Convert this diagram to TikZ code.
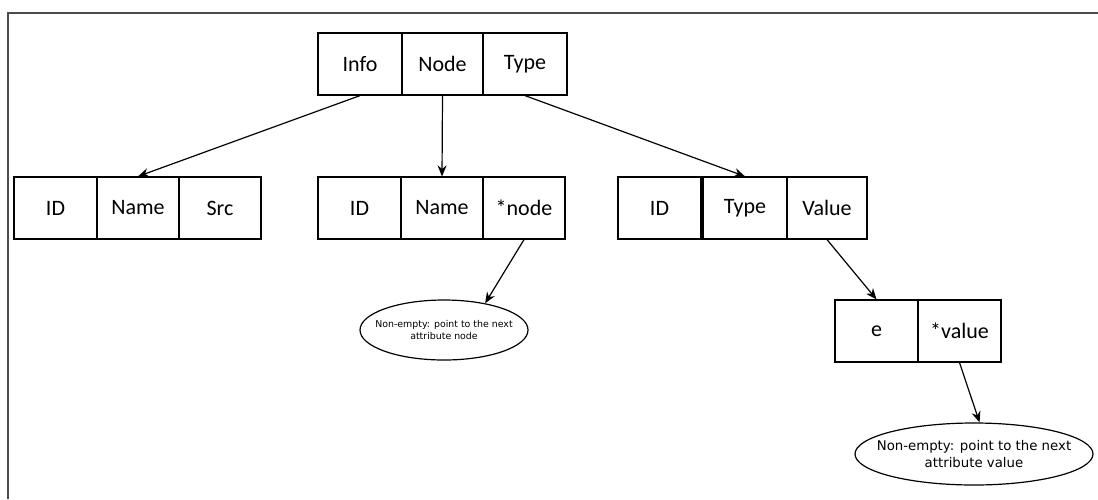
\documentclass[tikz,border=0pt]{standalone}
\usepackage{fontspec}
\setmainfont{Carlito}
\newfontfamily\ellfont{DejaVu Sans}
\usetikzlibrary{shapes.geometric,arrows.meta,calc}
\tikzset{
  cell/.style={draw=black, line width=1.2pt, inner sep=0pt, minimum height=62pt, font=\fontsize{22}{26}\selectfont},
  ell/.style={draw=black, line width=1.2pt, ellipse, inner sep=0pt},
  etextA/.style={align=center, inner sep=0pt, font=\ellfont\fontsize{9.4}{12}\selectfont},
  etextB/.style={align=center, inner sep=0pt, font=\ellfont\fontsize{13.3}{17}\selectfont},
  arr/.style={line width=1.2pt, -{Stealth[length=11pt,width=9pt]}},
  frame/.style={line width=2pt, draw=black!70}
}
\begin{document}
\begin{tikzpicture}[x=1pt,y=-1pt]
\useasboundingbox (0,0) rectangle (1098,499);
% frame
\coordinate (fbl) at (8,499);
\coordinate (ftl) at (8,13);
\coordinate (ftr) at (1098,13);
\draw[frame] (fbl) -- (ftl) -- (ftr);
% top row
\node[cell, minimum width=84pt] (info) at (360,64) {Info};
\node[cell, minimum width=81pt] (nodeC) at (442.5,64) {Node};
\node[cell, minimum width=84pt] (typeC) at (525,64) {Type};
% left row
\node[cell, minimum width=83pt] (id1) at (55.5,208) {ID};
\node[cell, minimum width=82pt] (name1) at (138,208) {Name};
\node[cell, minimum width=82pt] (src1) at (220,208) {Src};
% middle row
\node[cell, minimum width=83pt] (id2) at (359.5,208) {ID};
\node[cell, minimum width=82pt] (name2) at (442,208) {Name};
\node[cell, minimum width=82pt] (ptr2) at (524,208) {*node};
% right row
\node[cell, minimum width=83pt] (id3) at (659.5,208) {ID};
\node[cell, minimum width=84pt] (type3) at (745,208) {Type};
\node[cell, minimum width=80pt] (val3) at (827,208) {Value};
% e row
\node[cell, minimum width=83pt] (eC) at (876.5,331) {e};
\node[cell, minimum width=83pt] (pv) at (959.5,331) {*value};
% ellipses
\node[ell, minimum width=168pt, minimum height=60pt] (e1) at (444,330) {};
\node[etextA] (t1) at (e1.center) {Non-empty: point to the next\\attribute node};
\node[ell, minimum width=238pt, minimum height=62pt] (e2) at (974,454) {};
\node[etextB] (t2) at (e2.center) {Non-empty: point to the next\\attribute value};
% arrows
\draw[arr] (info.south) -- (name1.north);
\draw[arr] (nodeC.south) -- (name2.north);
\draw[arr] (typeC.south) -- (type3.north);
\draw[arr] (ptr2.south) -- (e1.33);
\draw[arr] (val3.south) -- (eC.north);
\draw[arr] (pv.south) -- (e2.80);
\end{tikzpicture}
\end{document}
